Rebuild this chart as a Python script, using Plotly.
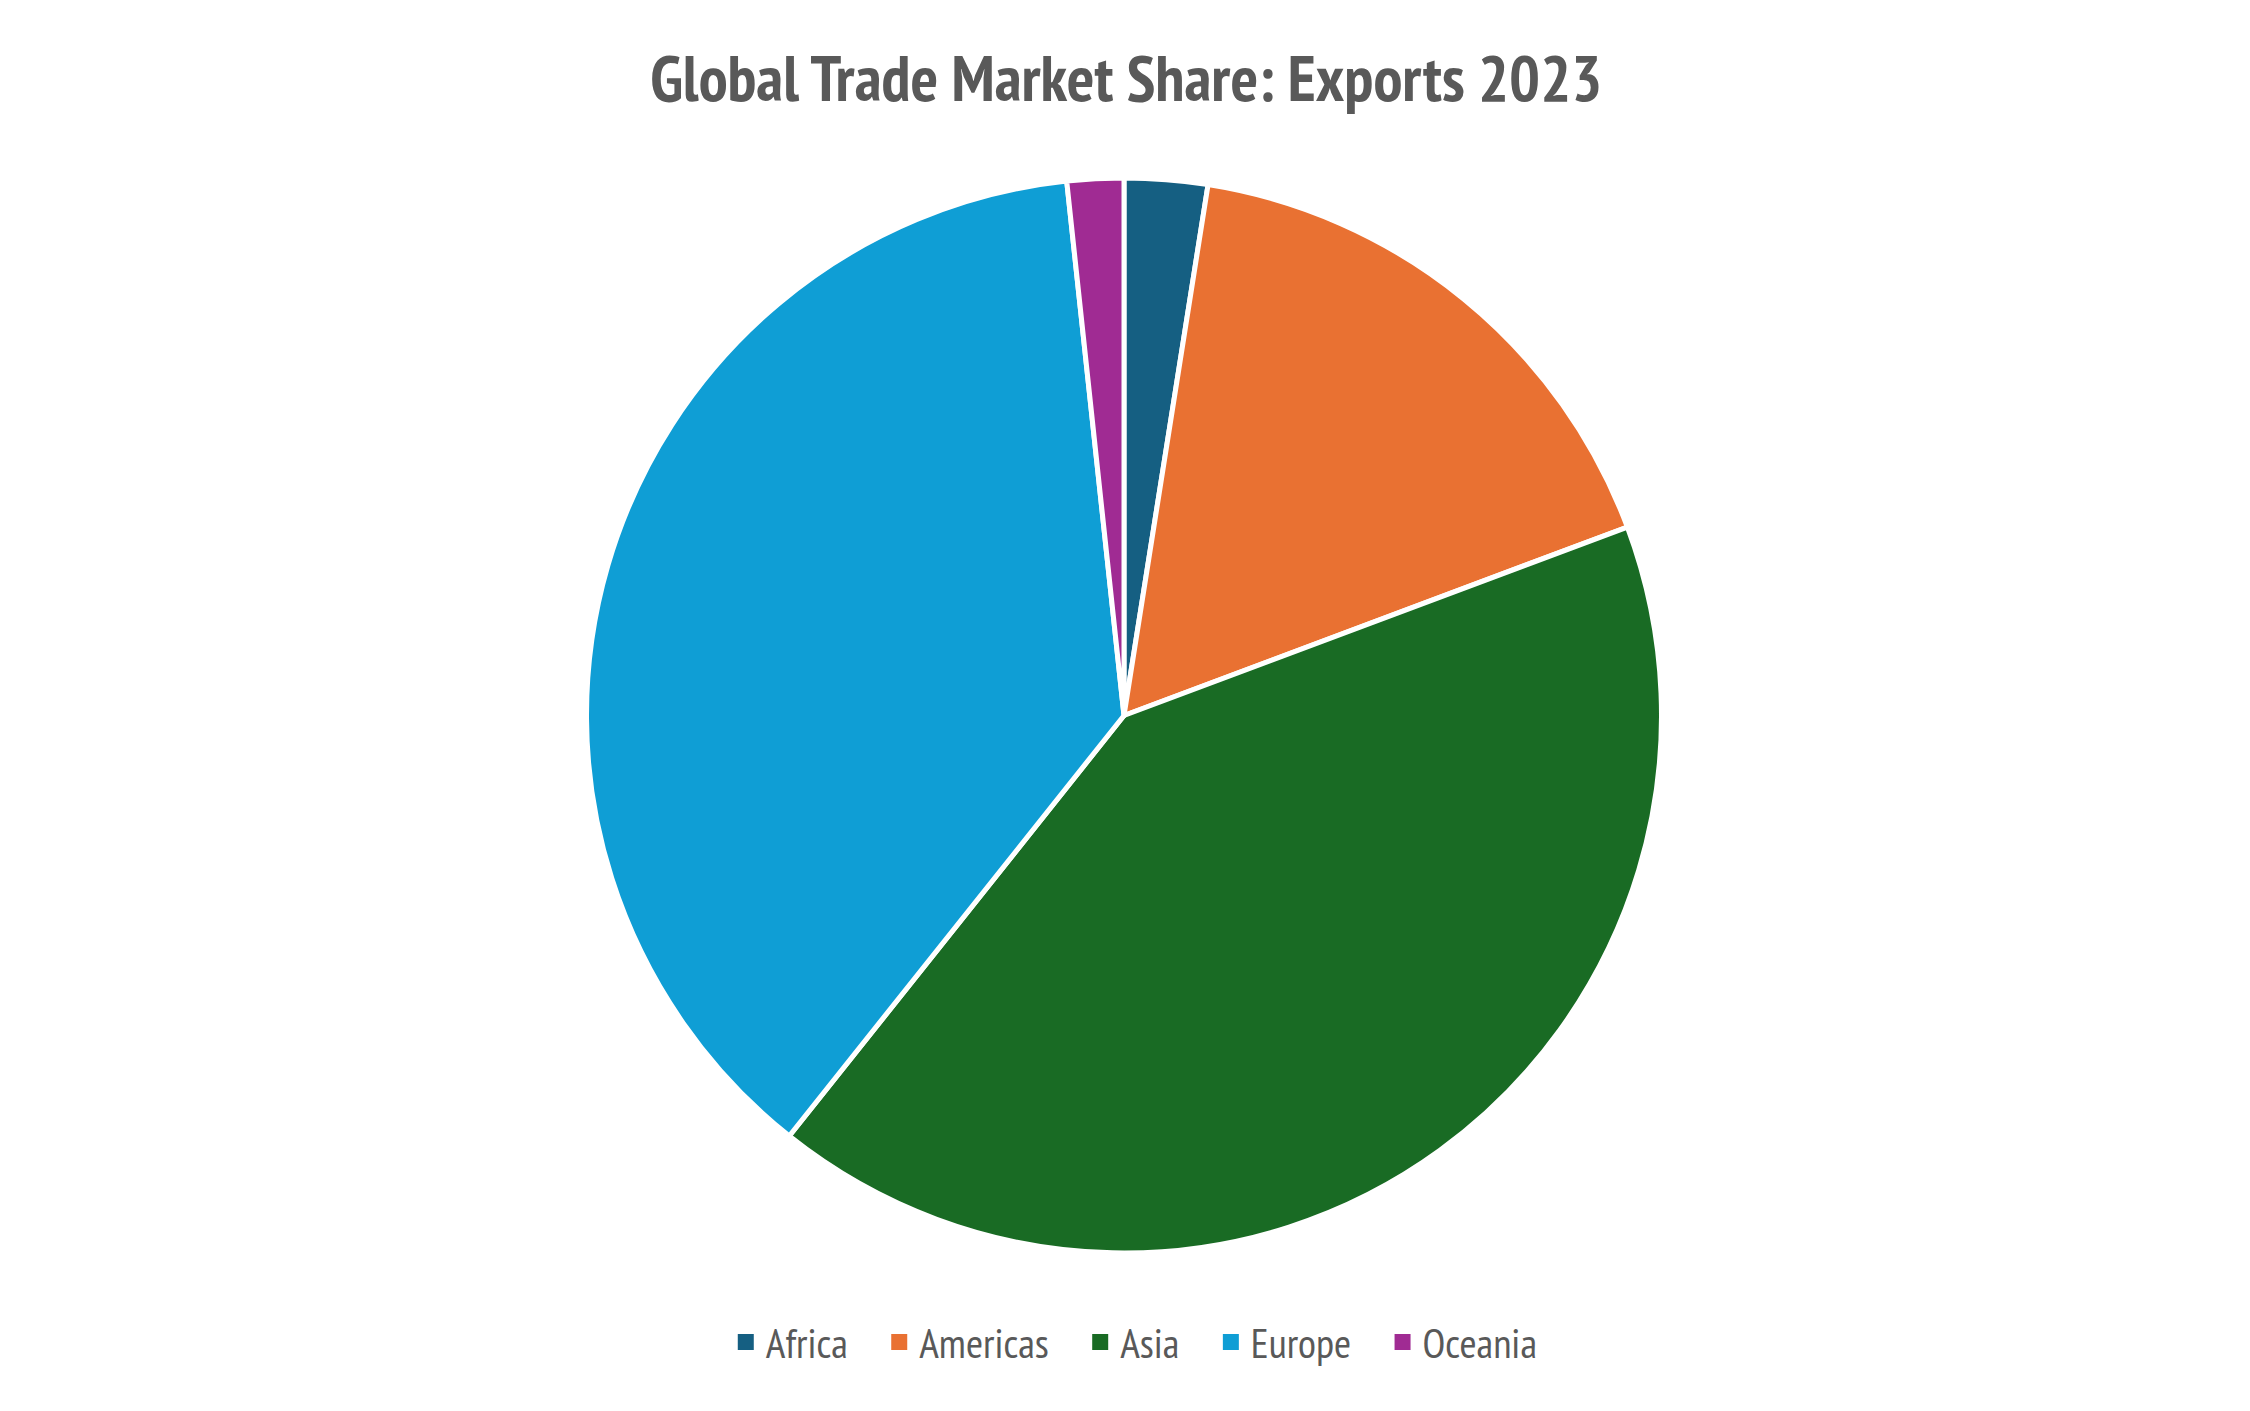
import plotly.graph_objects as go

regions = ["Africa", "Americas", "Asia", "Europe", "Oceania"]
shares = [2.5, 16.8, 41.4, 37.6, 1.7]
colors = ["#155F82", "#E97132", "#196B24", "#0F9ED5", "#A02B93"]

FONT = "Liberation Sans Narrow, PT Sans Narrow, Arial Narrow, sans-serif"
NBSP = "\u00a0"

fig = go.Figure()
fig.add_trace(go.Pie(
    labels=regions,
    values=shares,
    sort=False,
    direction="clockwise",
    rotation=0,
    textinfo="none",
    hoverinfo="label+percent",
    showlegend=False,
    marker=dict(colors=colors, line=dict(color="white", width=5)),
))

# legend entries (square swatches)
for i, (name, col) in enumerate(zip(regions, colors)):
    pad = NBSP * 3 if i < len(regions) - 1 else ""
    fig.add_trace(go.Scatter(
        x=[None], y=[None], mode="markers", name=name + pad,
        marker=dict(symbol="square", size=16, color=col),
        showlegend=True, hoverinfo="skip",
    ))

fig.update_layout(
    width=2250, height=1411,
    paper_bgcolor="white", plot_bgcolor="white",
    margin=dict(l=88, r=106, t=170, b=166),
    xaxis=dict(visible=False), yaxis=dict(visible=False),
    title=dict(text="<b>Global Trade Market Share: Exports 2023</b>",
               x=0.497, xanchor="center", y=1 - 70 / 1411, yref="container", yanchor="middle",
               font=dict(family=FONT, size=65, color="#595959")),
    showlegend=True,
    legend=dict(orientation="h", x=0.505, xanchor="center", y=(1411 - 1334) / 1411,
                yref="container", yanchor="middle",
                font=dict(family=FONT, size=41.5, color="#595959"),
                itemsizing="trace", traceorder="normal"),
)

fig.write_html("out.html")
